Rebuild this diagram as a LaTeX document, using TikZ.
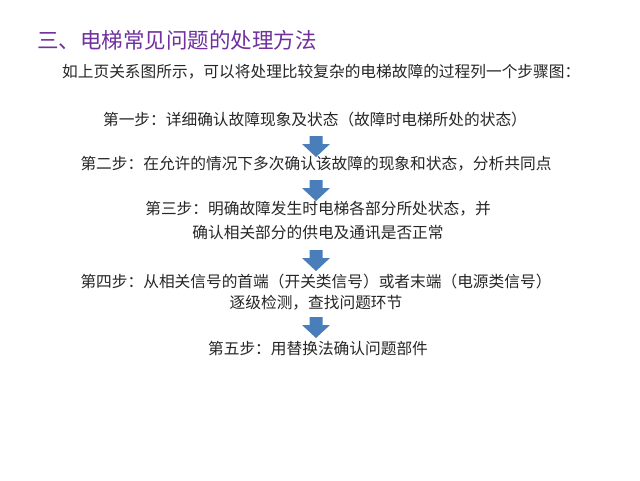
\documentclass[tikz,border=0pt]{standalone}
\usepackage{fontspec}
\newfontfamily\cjk{Noto Sans CJK SC}
\definecolor{titlepurple}{RGB}{112,48,160}
\definecolor{bodygray}{RGB}{38,38,38}
\definecolor{arrowblue}{RGB}{74,126,187}
\tikzset{
  titletext/.style={anchor=west, inner sep=0pt, text=titlepurple, font=\cjk\fontsize{21.5}{24}\selectfont},
  introtext/.style={anchor=west, inner sep=0pt, text=bodygray, font=\cjk\fontsize{15.7}{22}\selectfont},
  steptext/.style={inner sep=0pt, text=bodygray, align=center, font=\cjk\fontsize{15.7}{22}\selectfont},
  blockarrow/.pic={
    \fill[arrowblue] (-6.5,0) -- (6.5,0) -- (6.5,-8) -- (14,-8) -- (0,-21) -- (-14,-8) -- (-6.5,-8) -- cycle;
  }
}
\begin{document}
\begin{tikzpicture}[x=1pt,y=1pt]
\useasboundingbox[fill=white] (0,0) rectangle (640,-480);
\node[titletext] (title) at (37,-40) {三、电梯常见问题的处理方法};
\node[introtext] (intro) at (62,-72) {如上页关系图所示，可以将处理比较复杂的电梯故障的过程列一个步骤图：};
\node[steptext] (s1) at (315,-120) {第一步：详细确认故障现象及状态（故障时电梯所处的状态）};
\coordinate (a1) at (316,-136);
\pic at (a1) {blockarrow};
\node[steptext] (s2) at (316,-164) {第二步：在允许的情况下多次确认该故障的现象和状态，分析共同点};
\coordinate (a2) at (316,-180);
\pic at (a2) {blockarrow};
\node[steptext, font=\cjk\fontsize{15.7}{24}\selectfont] (s3) at (318,-221) {第三步：明确故障发生时电梯各部分所处状态，并\\确认相关部分的供电及通讯是否正常};
\coordinate (a3) at (316,-250);
\pic at (a3) {blockarrow};
\node[steptext, font=\cjk\fontsize{15.7}{21}\selectfont] (s4) at (316,-292) {第四步：从相关信号的首端（开关类信号）或者末端（电源类信号）\\逐级检测，查找问题环节};
\coordinate (a4) at (316,-317);
\pic at (a4) {blockarrow};
\node[steptext] (s5) at (318,-349) {第五步：用替换法确认问题部件};
\end{tikzpicture}
\end{document}
